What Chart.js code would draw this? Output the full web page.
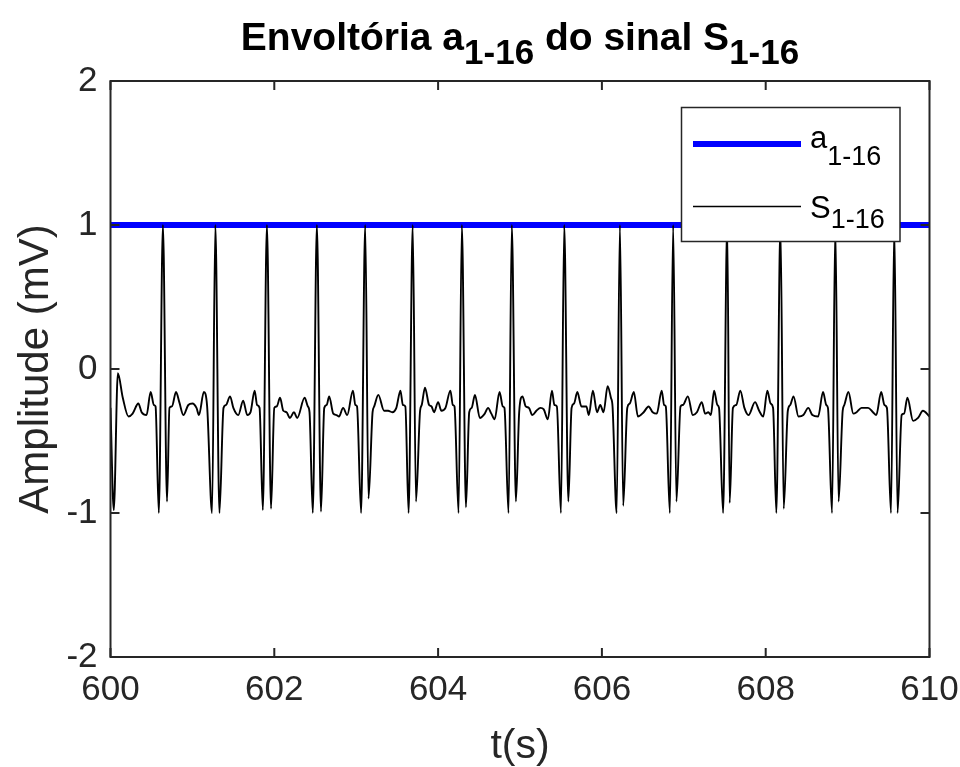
<!DOCTYPE html>
<html>
<head>
<meta charset="utf-8">
<script src="https://cdn.jsdelivr.net/npm/chart.js@4/dist/chart.umd.min.js"></script>
<style>
  html, body { margin: 0; padding: 0; background: #fff; }
  #wrap { width: 960px; height: 767px; }
</style>
</head>
<body>
<div id="wrap"><canvas id="c" width="960" height="767"></canvas></div>
<script>
(function () {
  'use strict';

  // signal S 1-16 (t in s, amplitude in mV)
  var sigTime = [
    600.00, 600.04, 600.09, 600.15, 600.22, 600.27, 600.34, 600.38, 600.44, 600.49, 600.53, 600.55,
    600.59, 600.64, 600.69, 600.72, 600.75, 600.80, 600.84, 600.89, 600.95, 601.00, 601.05, 601.08, 601.14, 601.18,
    601.24, 601.28, 601.33, 601.38, 601.41, 601.46, 601.50, 601.56, 601.62, 601.67, 601.71, 601.76, 601.79, 601.82,
    601.86, 601.91, 601.96, 602.00, 602.03, 602.07, 602.11, 602.15, 602.19, 602.24, 602.28, 602.37, 602.41, 602.43,
    602.47, 602.52, 602.57, 602.61, 602.64, 602.67, 602.72, 602.76, 602.79, 602.84, 602.89, 602.96, 602.99, 603.01,
    603.06, 603.11, 603.15, 603.20, 603.22, 603.27, 603.34, 603.39, 603.44, 603.49, 603.54, 603.57, 603.60,
    603.64, 603.69, 603.73, 603.78, 603.80, 603.84, 603.89, 603.92, 603.95, 604.00, 604.04, 604.09, 604.15, 604.18, 604.20,
    604.25, 604.29, 604.34, 604.38, 604.41, 604.45, 604.51, 604.57, 604.61, 604.65, 604.69, 604.75, 604.79, 604.81,
    604.86, 604.90, 604.95, 604.99, 605.03, 605.07, 605.11, 605.15, 605.20, 605.25, 605.29, 605.34, 605.39, 605.42, 605.45,
    605.50, 605.54, 605.59, 605.63, 605.66, 605.70, 605.75, 605.81, 605.84, 605.89, 605.94, 605.98, 606.02, 606.07, 606.11, 606.13,
    606.18, 606.22, 606.26, 606.31, 606.34, 606.39, 606.44, 606.51, 606.57, 606.62, 606.67, 606.73, 606.76, 606.78,
    606.83, 606.87, 606.91, 606.96, 606.99, 607.05, 607.11, 607.16, 607.22, 607.26, 607.30, 607.33, 607.37, 607.41, 607.43,
    607.48, 607.53, 607.56, 607.60, 607.64, 607.69, 607.74, 607.79, 607.87, 607.92, 607.97, 608.02, 608.06, 608.09,
    608.13, 608.18, 608.22, 608.27, 608.30, 608.34, 608.40, 608.46, 608.52, 608.57, 608.64, 608.70, 608.74, 608.76,
    608.81, 608.85, 608.89, 608.94, 608.96, 609.01, 609.07, 609.11, 609.17, 609.25, 609.31, 609.35, 609.41, 609.45, 609.48,
    609.53, 609.57, 609.61, 609.66, 609.69, 609.73, 609.80, 609.86, 609.92, 610.00
  ];
  var sigAmp = [
    -0.27, -0.98, -0.03, -0.20, -0.33, -0.31, -0.24, -0.30, -0.32, -0.16, -0.25, -0.26,
    -1.00, 1.00, -0.92, -0.27, -0.26, -0.16, -0.23, -0.32, -0.25, -0.24, -0.27, -0.32, -0.16, -0.26,
    -1.00, 1.00, -1.00, -0.27, -0.25, -0.19, -0.27, -0.32, -0.22, -0.32, -0.30, -0.15, -0.25, -0.27,
    -0.98, 1.00, -0.97, -0.27, -0.26, -0.20, -0.29, -0.30, -0.34, -0.30, -0.34, -0.20, -0.26, -0.30,
    -1.00, 1.00, -0.99, -0.27, -0.25, -0.19, -0.31, -0.32, -0.33, -0.27, -0.32, -0.15, -0.25, -0.26,
    -1.00, 1.00, -0.90, -0.30, -0.26, -0.18, -0.29, -0.29, -0.30, -0.27, -0.15, -0.25, -0.26,
    -1.00, 1.00, -0.92, -0.29, -0.25, -0.13, -0.25, -0.26, -0.30, -0.23, -0.29, -0.27, -0.15, -0.25, -0.26,
    -1.00, 1.00, -0.96, -0.30, -0.27, -0.18, -0.34, -0.31, -0.27, -0.31, -0.35, -0.16, -0.26, -0.27,
    -1.00, 1.00, -0.92, -0.30, -0.19, -0.26, -0.27, -0.32, -0.29, -0.27, -0.28, -0.35, -0.15, -0.25, -0.26,
    -1.00, 1.00, -0.92, -0.27, -0.24, -0.16, -0.26, -0.26, -0.32, -0.15, -0.30, -0.25, -0.30, -0.12, -0.20, -0.26,
    -1.00, 1.00, -0.95, -0.27, -0.24, -0.16, -0.33, -0.30, -0.26, -0.30, -0.31, -0.15, -0.25, -0.26,
    -1.00, 1.00, -0.92, -0.26, -0.25, -0.19, -0.32, -0.30, -0.23, -0.31, -0.30, -0.32, -0.15, -0.25, -0.27,
    -1.00, 1.00, -0.93, -0.27, -0.25, -0.15, -0.27, -0.32, -0.23, -0.29, -0.33, -0.15, -0.24, -0.27,
    -1.00, 1.00, -0.97, -0.29, -0.25, -0.19, -0.33, -0.32, -0.27, -0.32, -0.33, -0.16, -0.25, -0.27,
    -1.00, 1.00, -0.92, -0.29, -0.25, -0.16, -0.31, -0.30, -0.27, -0.27, -0.30, -0.32, -0.16, -0.25, -0.27,
    -1.00, 1.00, -1.00, -0.32, -0.31, -0.20, -0.36, -0.34, -0.29, -0.33
  ];

  // envelope a 1-16
  var envTime = [600, 610];
  var envAmp = [1, 1];

  var xTicks = [600, 602, 604, 606, 608, 610];
  var yTicks = [-2, -1, 0, 1, 2];

  var axisColor = '#262626';
  var fontFamily = "'Liberation Sans', Arial, Helvetica, sans-serif";

  function toPoints(xs, ys) {
    return xs.map(function (x, i) { return { x: x, y: ys[i] }; });
  }

  // draws text pieces, some of them lowered as subscripts
  function drawRich(ctx, parts, x, y, align) {
    var total = 0;
    parts.forEach(function (p) {
      ctx.font = p.font;
      p.w = ctx.measureText(p.text).width;
      total += p.w;
    });
    var cx = align === 'center' ? x - total / 2 : x;
    ctx.textAlign = 'left';
    ctx.textBaseline = 'alphabetic';
    parts.forEach(function (p) {
      ctx.font = p.font;
      ctx.fillText(p.text, cx, y + (p.dy || 0));
      cx += p.w;
    });
  }

  var framePlugin = {
    id: 'frame',
    afterDatasetsDraw: function (chart) {
      var ctx = chart.ctx;
      var a = chart.chartArea;
      var xs = chart.scales.x, ys = chart.scales.y;

      // legend box
      var lx = 681.5, ly = 107.5, lw = 218.5, lh = 134;
      ctx.save();
      ctx.fillStyle = '#ffffff';
      ctx.fillRect(lx, ly, lw, lh);
      ctx.strokeStyle = axisColor;
      ctx.lineWidth = 1.5;
      ctx.strokeRect(lx, ly, lw, lh);

      ctx.strokeStyle = '#0000ff';
      ctx.lineWidth = 6;
      ctx.beginPath();
      ctx.moveTo(693, 144);
      ctx.lineTo(801, 144);
      ctx.stroke();

      ctx.strokeStyle = '#000000';
      ctx.lineWidth = 1.6;
      ctx.beginPath();
      ctx.moveTo(693, 206.5);
      ctx.lineTo(801, 206.5);
      ctx.stroke();

      ctx.fillStyle = '#000000';
      var big = '31px ' + fontFamily, small = '27px ' + fontFamily;
      drawRich(ctx, [
        { text: 'a', font: big },
        { text: '1-16', font: small, dy: 17 }
      ], 810, 148, 'left');
      drawRich(ctx, [
        { text: 'S', font: big },
        { text: '1-16', font: small, dy: 10 }
      ], 810, 218, 'left');
      ctx.restore();

      // axes box with inward ticks on every side
      ctx.save();
      ctx.strokeStyle = axisColor;
      ctx.lineWidth = 2;
      ctx.strokeRect(a.left, a.top, a.right - a.left, a.bottom - a.top);
      ctx.beginPath();
      xTicks.forEach(function (v) {
        var px = xs.getPixelForValue(v);
        ctx.moveTo(px, a.bottom);
        ctx.lineTo(px, a.bottom - 9);
        ctx.moveTo(px, a.top);
        ctx.lineTo(px, a.top + 9);
      });
      yTicks.forEach(function (v) {
        var py = ys.getPixelForValue(v);
        ctx.moveTo(a.left, py);
        ctx.lineTo(a.left + 9, py);
        ctx.moveTo(a.right, py);
        ctx.lineTo(a.right - 9, py);
      });
      ctx.stroke();
      ctx.restore();
    },
    afterDraw: function (chart) {
      var ctx = chart.ctx;
      var a = chart.chartArea;
      ctx.save();
      ctx.fillStyle = '#000000';
      var big = 'bold 39px ' + fontFamily, small = 'bold 35px ' + fontFamily;
      drawRich(ctx, [
        { text: 'Envoltória a', font: big },
        { text: '1-16', font: small, dy: 14 },
        { text: ' do sinal S', font: big },
        { text: '1-16', font: small, dy: 14 }
      ], (a.left + a.right) / 2, 50, 'center');
      ctx.restore();
    }
  };

  var canvas = document.getElementById('c');
  new Chart(canvas, {
    type: 'line',
    data: {
      datasets: [
        {
          label: 'S 1-16',
          data: toPoints(sigTime, sigAmp),
          borderColor: '#000000',
          borderWidth: 1.9,
          pointRadius: 0,
          cubicInterpolationMode: 'monotone',
          fill: false,
          order: 0
        },
        {
          label: 'a 1-16',
          data: toPoints(envTime, envAmp),
          borderColor: '#0000ff',
          borderWidth: 6,
          pointRadius: 0,
          fill: false,
          order: 1
        }
      ]
    },
    options: {
      responsive: false,
      animation: false,
      devicePixelRatio: 1,
      parsing: false,
      layout: { padding: { top: 81, right: 30.5, left: 0, bottom: 0 } },
      plugins: {
        legend: { display: false },
        title: { display: false },
        tooltip: { enabled: false }
      },
      scales: {
        x: {
          type: 'linear',
          min: 600,
          max: 610,
          afterBuildTicks: function (scale) {
            scale.ticks = xTicks.map(function (v) { return { value: v }; });
          },
          afterFit: function (scale) {
            scale.height = 110;
            scale.paddingLeft = 0;
            scale.paddingRight = 0;
          },
          grid: { display: false, drawTicks: false },
          border: { display: false },
          ticks: {
            color: axisColor,
            padding: 12,
            maxRotation: 0,
            autoSkip: false,
            font: { family: fontFamily, size: 35 }
          },
          title: {
            display: true,
            text: 't(s)',
            color: axisColor,
            padding: { top: 0, bottom: -4 },
            font: { family: fontFamily, size: 41 }
          }
        },
        y: {
          type: 'linear',
          min: -2,
          max: 2,
          afterBuildTicks: function (scale) {
            scale.ticks = yTicks.map(function (v) { return { value: v }; });
          },
          afterFit: function (scale) { scale.width = 110.5; },
          grid: { display: false, drawTicks: false },
          border: { display: false },
          ticks: {
            color: axisColor,
            padding: 13,
            autoSkip: false,
            font: { family: fontFamily, size: 35 }
          },
          title: {
            display: true,
            text: 'Amplitude (mV)',
            color: axisColor,
            padding: { top: 11, bottom: 0 },
            font: { family: fontFamily, size: 42 }
          }
        }
      }
    },
    plugins: [framePlugin]
  });
})();
</script>
</body>
</html>
